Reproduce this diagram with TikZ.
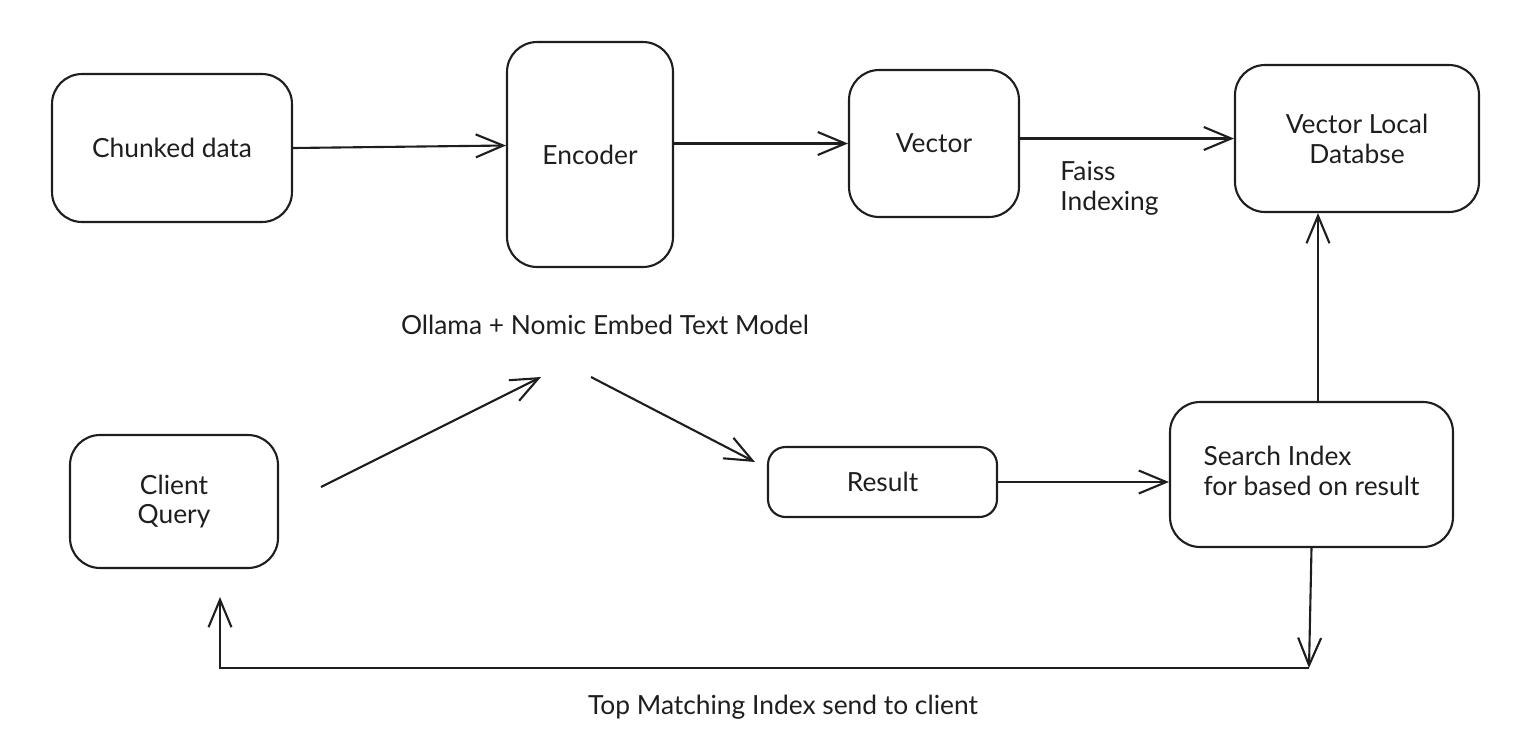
\documentclass[tikz,border=0pt]{standalone}
\usepackage{fontspec}
\setmainfont{Lato}
\usepackage{tikz}
\usetikzlibrary{calc,arrows.meta}
\usepackage{xcolor}
\definecolor{ink}{HTML}{1E1E1E}
\newcommand{\pxsize}{0.02cm}
\newcommand{\boxfont}{\fontsize{15}{17}\selectfont}
\tikzset{
	block/.style={draw=ink,line width=1.2pt,rounded corners=0.6cm,align=center,inner sep=0pt,font=\boxfont,text=ink},
	note/.style={align=left,font=\boxfont,text=ink,inner sep=0pt},
	flow/.style={draw=ink,line width=1.2pt,-{Straight Barb[length=5.5mm,width=4.6mm,line width=1.2pt]}}
}

\begin{document}
\begin{tikzpicture}[x=\pxsize,y=-\pxsize]
		\coordinate (O) at (0,0);

	\useasboundingbox (O) rectangle (1529,755);

	% top row
	\node[block,minimum width=4.8cm,minimum height=2.96cm] (chunk) at (172,148) {Chunked data};
	\node[block,minimum width=3.32cm,minimum height=4.5cm] (enc) at (590,154.5) {Encoder};
	\node[block,minimum width=3.4cm,minimum height=2.94cm] (vec) at (934,143.5) {Vector};
	\node[block,minimum width=4.88cm,minimum height=2.94cm] (vdb) at (1357,138.5) {Vector Local\\Databse};

	% bottom row
	\node[block,minimum width=4.16cm,minimum height=2.66cm] (client) at (174,501.5) {Client\\Query};
	\node[block,rounded corners=0.35cm,minimum width=4.58cm,minimum height=1.4cm] (res) at (882.5,482) {Result};
	\node[block,minimum width=5.66cm,minimum height=2.9cm] (search) at (1311.5,474.5) {\begin{tabular}{@{}l@{}}Search Index\\for based on result\end{tabular}};

	% free texts
	\node[note,anchor=west] (faiss) at (1060,188) {Faiss\\Indexing};
	\node[note] (ollama) at (605,325) {Ollama + Nomic Embed Text Model};
	\node[note] (topidx) at (783,707) {Top Matching Index send to client};

	\coordinate (q1) at (321,487);
	\coordinate (q2) at (541,377);
	\coordinate (r1) at (591,377);
	\coordinate (r2) at (755,462);
	\coordinate (bend) at (1309,668);
	\coordinate (back) at (220,597);

	\draw[flow] (chunk.east) -- ($(enc.west)+(0,-9)$);
	\draw[flow] (enc.east |- vec) -- (vec.west);
	\draw[flow] (vec.east |- vdb) -- (vdb.west);
	\draw[flow] (search.north -| 1318,0) -- (1318,0 |- vdb.south);
	\draw[flow] (q1) -- (q2);
	\draw[flow] (r1) -- (r2);
	\draw[flow] (res.east) -- (search.west |- res.east);
	\draw[flow] (search.south) -- (bend);
	\draw[flow] (bend) -- (bend -| back) -- (back);
    \end{tikzpicture}
\end{document}
